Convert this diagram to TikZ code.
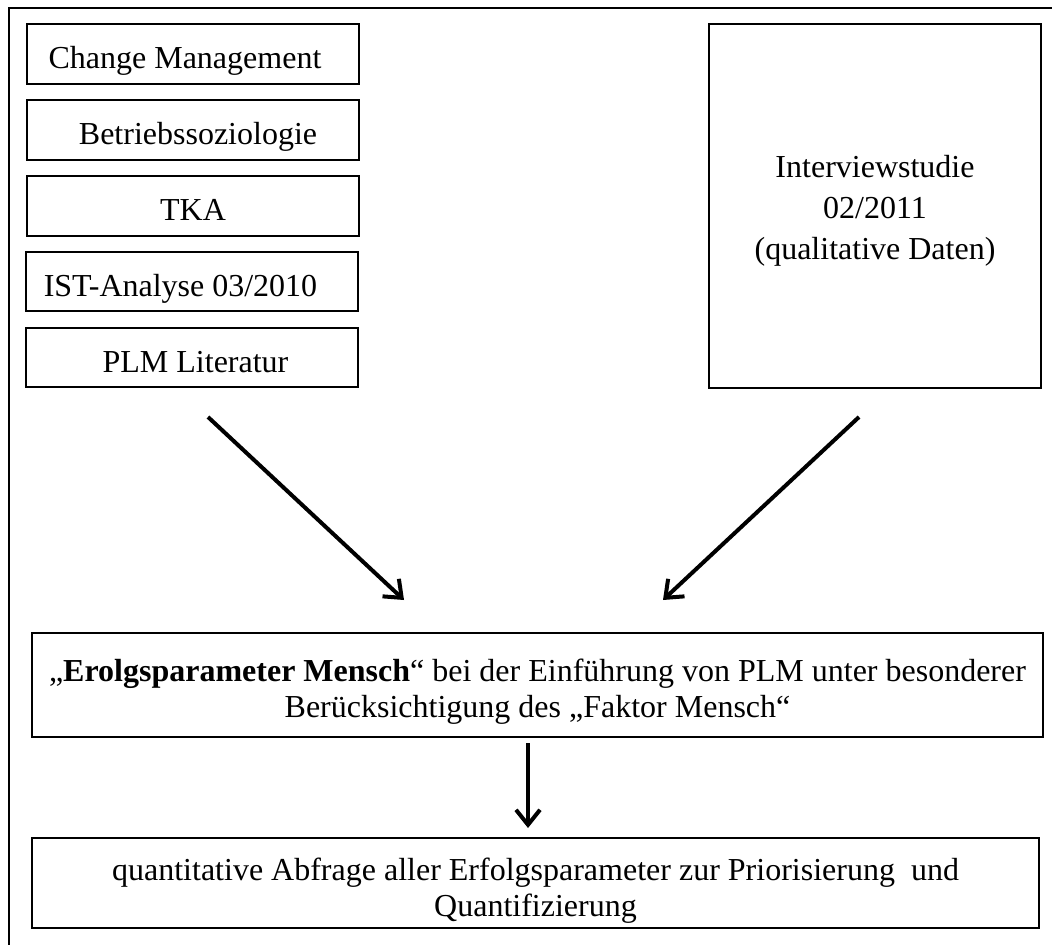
\documentclass[tikz,border=0pt]{standalone}
\usepackage{fontspec}
\setmainfont{Liberation Serif}
\usetikzlibrary{arrows.meta}
\begin{document}
\begin{tikzpicture}[x=0.5pt,y=-0.5pt,
  box/.style={draw=black,line width=1pt,rectangle,inner sep=0pt,align=center,
    font=\fontsize{16}{18}\selectfont},
  src/.style={box,minimum width=166pt,minimum height=30pt,text height=16pt,text depth=1pt},
  flow/.style={line width=2pt,-{Straight Barb[length=7.5pt,width=12pt,line width=2pt]}}]
\useasboundingbox (0,0) rectangle (1052,945);
\draw[line width=1pt] (1052,8) -- (9,8) -- (9,945);
% left source boxes
\node[src] (cm)  at (193,54)  {\hspace*{-8pt}Change Management};
\node[src] (bs)  at (193,130) {\hspace*{5pt}Betriebssoziologie};
\node[src] (tka) at (193,206) {TKA};
\node[src,minimum height=29.5pt] (ist) at (191.5,281.5) {\hspace*{-11pt}IST-Analyse 03/2010};
\node[src,minimum height=29.5pt] (plm) at (191.5,357.5) {\hspace*{4pt}PLM Literatur};
% right box
\node[box,minimum width=166pt,minimum height=182pt,
  font=\fontsize{16}{20.5}\selectfont] (iv) at (875,206)
  {\rule{0pt}{15.5pt}Interviewstudie\\02/2011\\(qualitative Daten)};
% middle box
\node[box,minimum width=505.5pt,minimum height=52pt] (ep) at (537.5,685)
  {\rule{0pt}{18pt}„\textbf{Erolgsparameter Mensch}“ bei der Einführung von PLM unter besonderer\\
   Berücksichtigung des „Faktor Mensch“};
% bottom box
\node[box,minimum width=503.5pt,minimum height=45pt] (qa) at (535.5,883)
  {\rule{0pt}{19pt}quantitative Abfrage aller Erfolgsparameter zur Priorisierung\ \ und\\
   Quantifizierung};
% arrows
\coordinate (a1s) at (208,417);
\coordinate (a1e) at (404,600);
\coordinate (a2s) at (859,417);
\coordinate (a2e) at (663,600);
\coordinate (a3s) at (528,743);
\coordinate (a3e) at (528,828);
\draw[flow] (a1s) -- (a1e);
\draw[flow] (a2s) -- (a2e);
\draw[flow] (a3s) -- (a3e);
\end{tikzpicture}
\end{document}
